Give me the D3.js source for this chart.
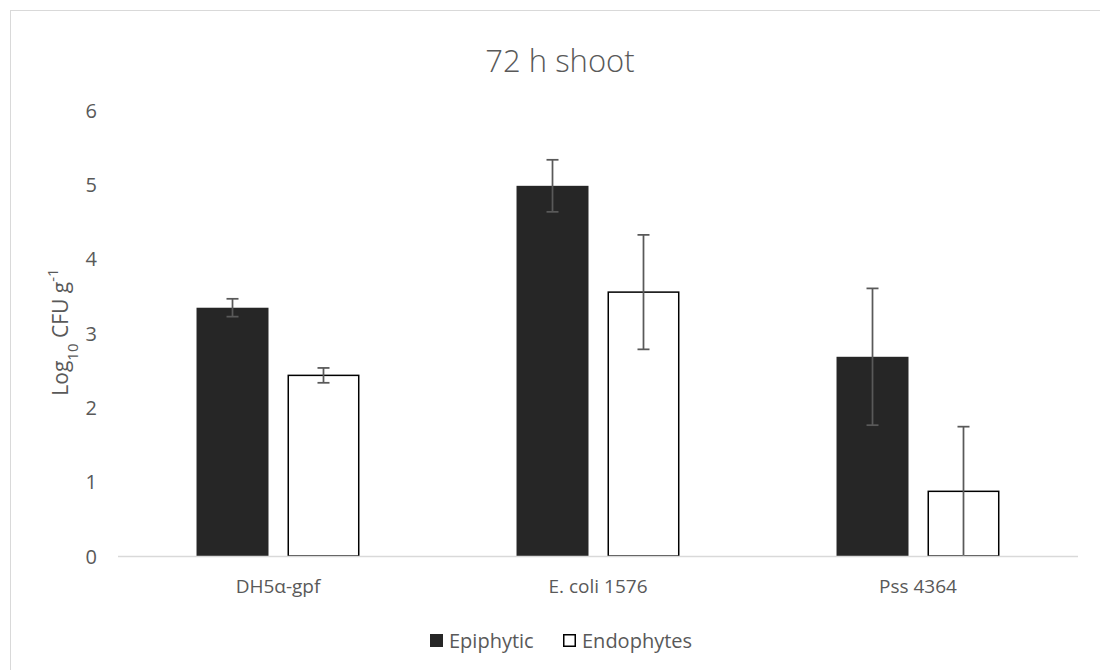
<!DOCTYPE html>
<html>
<head>
<meta charset="utf-8">
<script src="https://cdn.jsdelivr.net/npm/d3@7"></script>
<style>
  html, body { margin: 0; padding: 0; background: #fff; }
  svg { display: block; }
  text { font-family: "Open Sans", "Noto Sans", sans-serif; fill: #595959; }
</style>
</head>
<body>
<svg id="chart" width="1100" height="670"></svg>
<script>
// Strains on the x axis
const categories = ["DH5\u03b1-gpf", "E. coli 1576", "Pss 4364"];
// Series names
const seriesNames = ["Epiphytic", "Endophytes"];
// Mean log10 CFU per gram
const epiphytic = [3.34, 4.98, 2.68];
const endophytes = [2.43, 3.55, 0.87];
// Error bar half-widths
const epiphyticErr = [0.12, 0.35, 0.92];
const endophytesErr = [0.10, 0.77, 0.87];
// Y tick values
const yTicks = [0, 1, 2, 3, 4, 5, 6];

const svg = d3.select("#chart");
const W = 1100, H = 670;
const plot = { left: 118, right: 1078, top: 110, bottom: 556 };

// Chart frame
svg.append("rect")
  .attr("x", 10.5).attr("y", 10.5)
  .attr("width", W + 20).attr("height", H + 20)
  .attr("fill", "#fff").attr("stroke", "#d9d9d9").attr("stroke-width", 1);

// Title
svg.append("text")
  .attr("x", 560).attr("y", 72)
  .attr("text-anchor", "middle")
  .style("font-size", "31px")
  .style("font-weight", "300")
  .text("72 h shoot");

const y = d3.scaleLinear().domain([0, 6]).range([plot.bottom, plot.top]).clamp(true);
const x0 = d3.scaleBand().domain(categories).range([plot.left, plot.right]).padding(0);
const x1 = d3.scaleBand().domain(seriesNames).range([0, x0.bandwidth()])
  .paddingInner(0.209).paddingOuter(0.863);

// Y axis labels (no line, no ticks)
const yAxis = d3.axisLeft(y).tickValues(yTicks).tickSize(0).tickPadding(0).tickFormat(d3.format("d"));
const gy = svg.append("g").attr("transform", `translate(${plot.left - 21},0)`).call(yAxis);
gy.select(".domain").remove();
gy.selectAll("text")
  .style("font-size", "20px")
  .style("font-family", "'Open Sans', sans-serif")
  .attr("fill", "#595959").attr("dy", "0.36em");

// Y axis title
const yt = svg.append("text")
  .attr("transform", "translate(68,332) rotate(-90)")
  .attr("text-anchor", "middle")
  .style("font-size", "21px");
yt.append("tspan").text("Log");
yt.append("tspan").attr("baseline-shift", "sub").style("font-size", "15px").text("10");
yt.append("tspan").text(" CFU g");
yt.append("tspan").attr("baseline-shift", "super").style("font-size", "15px").text("-1");

// Bars
const rows = categories.map((c, i) => ({
  cat: c,
  vals: [
    { s: seriesNames[0], v: epiphytic[i], e: epiphyticErr[i] },
    { s: seriesNames[1], v: endophytes[i], e: endophytesErr[i] }
  ]
}));

const groups = svg.append("g").selectAll("g").data(rows).join("g")
  .attr("transform", d => `translate(${x0(d.cat)},0)`);

groups.selectAll("rect").data(d => d.vals).join("rect")
  .attr("x", d => x1(d.s) + (d.s === "Endophytes" ? 0.75 : 0))
  .attr("width", d => x1.bandwidth() - (d.s === "Endophytes" ? 1.5 : 0))
  .attr("y", d => y(d.v))
  .attr("height", d => y(0) - y(d.v))
  .attr("fill", d => d.s === "Epiphytic" ? "#262626" : "#fff")
  .attr("stroke", d => d.s === "Epiphytic" ? "none" : "#000")
  .attr("stroke-width", 1.5);

// X axis line
svg.append("line")
  .attr("x1", plot.left).attr("x2", plot.right)
  .attr("y1", y(0) + 0.5).attr("y2", y(0) + 0.5)
  .attr("stroke", "#d9d9d9").attr("stroke-width", 1.5);

// Error bars
const eb = groups.selectAll("g.err").data(d => d.vals).join("g").attr("class", "err")
  .attr("stroke", "#595959").attr("stroke-width", 1.75);
const cx = d => x1(d.s) + x1.bandwidth() / 2;
eb.append("line")
  .attr("x1", cx).attr("x2", cx)
  .attr("y1", d => y(d.v + d.e)).attr("y2", d => y(d.v - d.e));
eb.append("line")
  .attr("x1", d => cx(d) - 6).attr("x2", d => cx(d) + 6)
  .attr("y1", d => y(d.v + d.e)).attr("y2", d => y(d.v + d.e));
eb.filter(d => d.v - d.e > 0.02).append("line")
  .attr("x1", d => cx(d) - 6).attr("x2", d => cx(d) + 6)
  .attr("y1", d => y(d.v - d.e)).attr("y2", d => y(d.v - d.e));

// Category labels
svg.append("g").selectAll("text").data(categories).join("text")
  .attr("x", d => x0(d) + x0.bandwidth() / 2)
  .attr("y", 593)
  .attr("text-anchor", "middle")
  .style("font-size", "19px")
  .text(d => d);

// Legend
const legend = [
  { s: "Epiphytic", x: 430 },
  { s: "Endophytes", x: 563 }
];
const lg = svg.append("g").selectAll("g").data(legend).join("g")
  .attr("transform", d => `translate(${d.x},634)`);
lg.append("rect")
  .attr("x", d => d.s === "Endophytes" ? 0.75 : 0)
  .attr("y", d => d.s === "Endophytes" ? 0.75 : 0)
  .attr("width", d => d.s === "Endophytes" ? 11.5 : 13)
  .attr("height", d => d.s === "Endophytes" ? 11.5 : 13)
  .attr("fill", d => d.s === "Epiphytic" ? "#262626" : "#fff")
  .attr("stroke", d => d.s === "Epiphytic" ? "none" : "#000")
  .attr("stroke-width", 1.5);
lg.append("text")
  .attr("x", 19).attr("y", 13.5)
  .style("font-size", "20px")
  .text(d => d.s);
</script>
</body>
</html>
